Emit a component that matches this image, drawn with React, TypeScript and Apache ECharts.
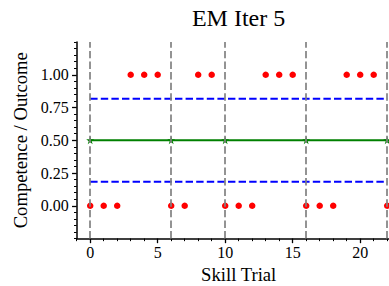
import React, { useEffect, useRef } from "react";
import * as echarts from "echarts";

const trials = [0, 1, 2, 3, 4, 5, 6, 7, 8, 9, 10, 11, 12, 13, 14, 15, 16, 17, 18, 19, 20, 21, 22];
const outcomes = [0, 0, 0, 1, 1, 1, 0, 0, 1, 1, 0, 0, 0, 1, 1, 1, 0, 0, 0, 1, 1, 1, 0];
const boundaries = [0, 6, 10, 16, 22];
const competence = [0.5, 0.5, 0.5, 0.5, 0.5];
const upperBand = [0.817, 0.817];
const lowerBand = [0.183, 0.183];
const bandX = [0, 22];
const xMajor = [0, 5, 10, 15, 20];
const yMajor = [0, 0.25, 0.5, 0.75, 1.0];
const title = "EM Iter 5";

const FONT = "Liberation Serif";

function starPath(): string {
  const pts: string[] = [];
  for (let i = 0; i < 10; i++) {
    const r = i % 2 === 0 ? 10 : 3.8;
    const a = -Math.PI / 2 + (i * Math.PI) / 5;
    pts.push(`${(r * Math.cos(a)).toFixed(2)} ${(r * Math.sin(a)).toFixed(2)}`);
  }
  return "path://M" + pts.join(" L") + " Z";
}

export default function App() {
  const ref = useRef<HTMLDivElement>(null);
  useEffect(() => {
    if (!ref.current) return;
    const chart = echarts.init(ref.current, null, { renderer: "svg" });
    const xMinor: number[] = [];
    for (let v = -1; v <= 23; v += 1) if (!xMajor.includes(v)) xMinor.push(v);
    const yMinor: number[] = [];
    for (let i = -5; i <= 25; i++) {
      const v = Math.round(i * 5) / 100;
      if (!yMajor.some((m) => Math.abs(m - v) < 1e-9)) yMinor.push(v);
    }
    const xMin = -1, xMax = 23, yMin = -0.25, yMax = 1.25;
    const grid = { left: 76.7, right: -11.7, top: 42, bottom: 47.5, outerBoundsMode: "none", containLabel: false };
    chart.setOption({
      animation: false,
      grid,
      graphic: [
        {
          type: "text",
          x: 238.6,
          y: 6,
          style: {
            text: title,
            font: `24px "${FONT}"`,
            fill: "#000",
            textAlign: "center",
            textVerticalAlign: "top",
          },
        },
      ],
      xAxis: [
        {
          type: "value",
          min: xMin,
          max: xMax,
          position: "bottom",
          splitLine: { show: false },
          axisLine: { show: true, onZero: false, lineStyle: { color: "#000", width: 1.5 } },
          axisTick: { show: true, customValues: xMajor, length: 4.67, lineStyle: { color: "#000", width: 1.3 } },
          axisLabel: { customValues: xMajor, fontSize: 16, fontFamily: FONT, color: "#000", margin: 6 },
          name: "Skill Trial",
          nameLocation: "middle",
          nameGap: 23,
          nameTextStyle: { fontSize: 18.67, fontFamily: FONT, color: "#000" },
        },
        {
          type: "value",
          min: xMin,
          max: xMax,
          position: "bottom",
          splitLine: { show: false },
          axisLine: { show: false, onZero: false },
          axisTick: { show: true, customValues: xMinor, length: 2.67, lineStyle: { color: "#000", width: 1 } },
          axisLabel: { show: false },
        },
      ],
      yAxis: [
        {
          type: "value",
          min: yMin,
          max: yMax,
          position: "left",
          splitLine: { show: false },
          axisLine: { show: true, onZero: false, lineStyle: { color: "#000", width: 1.5 } },
          axisTick: { show: true, customValues: yMajor, length: 4.67, lineStyle: { color: "#000", width: 1.3 } },
          axisLabel: {
            customValues: yMajor,
            fontSize: 16,
            fontFamily: FONT,
            color: "#000",
            margin: 8,
            formatter: (v: number) => v.toFixed(2),
          },
          name: "Competence / Outcome",
          nameLocation: "middle",
          nameGap: 41,
          nameTextStyle: { fontSize: 18.67, fontFamily: FONT, color: "#000" },
        },
        {
          type: "value",
          min: yMin,
          max: yMax,
          position: "left",
          splitLine: { show: false },
          axisLine: { show: false, onZero: false },
          axisTick: { show: true, customValues: yMinor, length: 2.67, lineStyle: { color: "#000", width: 1 } },
          axisLabel: { show: false },
        },
      ],
      series: [
        {
          type: "line",
          data: [],
          z: 1,
          markLine: {
            silent: true,
            symbol: "none",
            label: { show: false },
            lineStyle: { color: "#808080", opacity: 0.85, width: 2, type: [7.4, 3.2] },
            data: boundaries.map((b) => ({ xAxis: b })),
          },
        },
        {
          type: "line",
          data: bandX.map((x, i) => [x, upperBand[i]]),
          showSymbol: false,
          symbol: "none",
          z: 2,
          lineStyle: { color: "#0000ff", width: 2, type: [7.4, 3.2] },
        },
        {
          type: "line",
          data: bandX.map((x, i) => [x, lowerBand[i]]),
          showSymbol: false,
          symbol: "none",
          z: 2,
          lineStyle: { color: "#0000ff", width: 2, type: [7.4, 3.2] },
        },
        {
          type: "line",
          data: boundaries.map((b, i) => [b, competence[i]]),
          symbol: starPath(),
          symbolSize: 8,
          showSymbol: true,
          z: 3,
          itemStyle: { color: "#008000" },
          lineStyle: { color: "#008000", width: 2 },
        },
        {
          type: "scatter",
          data: trials.map((t, i) => [t, outcomes[i]]),
          symbol: "circle",
          symbolSize: 6.5,
          z: 4,
          itemStyle: { color: "#ff0000", opacity: 1 },
        },
      ],
    });
    return () => chart.dispose();
  }, []);
  return <div ref={ref} style={{ width: 389, height: 286, position: "absolute", left: 0, top: 0 }} />;
}
